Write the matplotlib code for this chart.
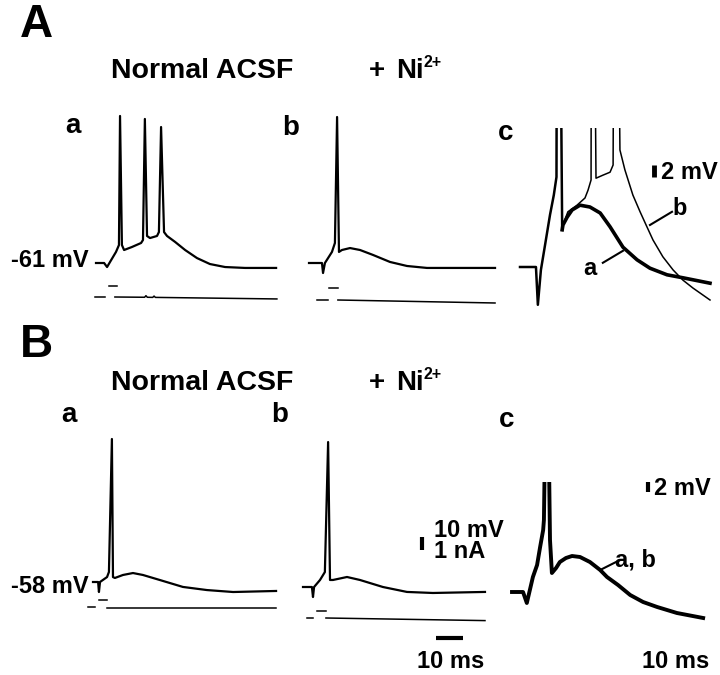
import matplotlib
matplotlib.use("Agg")
import matplotlib.pyplot as plt

plt.rcParams['font.family'] = ['Liberation Sans', 'DejaVu Sans']
plt.rcParams['font.weight'] = 'bold'

W, H = 720, 675

# ---------------- data (time in ms, membrane potential in mV, current in nA) ----------------
# A a : normal ACSF, three spikes
aa_t = [0, 3.0, 4.1, 5.2, 7.4, 8.5, 8.9, 9.6, 10.4, 13.3, 16.7, 17.4, 18.1, 18.9, 20.0,
        22.6, 23.3, 24.1, 25.2, 26.3, 29.3, 33.0, 37.4, 42.2, 47.8, 55.2, 66.7]
aa_v = [-61, -61, -64.1, -60.2, -52.5, -47.2, 52.1, -47.2, -51, -48.7, -45.6, -43.3, 49.8,
        -40.2, -41.8, -40.2, -37.2, 43.6, -37.2, -40.2, -44.8, -51, -57.2, -61.8, -64.1,
        -64.8, -64.8]
aa_cur = [([-0.4, 3.3], [0, 0]),
          ([4.8, 7.8], [0.85, 0.85]),
          ([7.0, 18.0, 18.5, 19.0, 21.0, 21.5, 22.0, 67.0], [0, -0.02, 0.1, -0.02, -0.03, 0.07, -0.03, -0.15])]

# A b : + Ni2+, single spike
ab_t = [0, 4.8, 5.2, 5.9, 8.5, 9.6, 10.4, 11.1, 12.2, 15.2, 18.9, 23.7, 30.0, 36.3, 43.7, 68.9]
ab_v = [-61, -61, -68.7, -61, -52.5, -45.6, 51.3, -52.5, -51, -49.5, -51, -54.8, -60.2,
        -63.3, -64.8, -64.8]
ab_cur = [([3.0, 7.0], [0, 0]),
          ([7.4, 10.7], [0.9, 0.9]),
          ([10.7, 68.9], [0, -0.23])]

# A c : superimposed, expanded
ac_t_pre = [0, 4.2, 4.7, 5.5, 6.6, 7.9, 8.9, 9.6, 9.9, 11.1]
ac_v_pre = [-61, -61, -67.3, -61.5, -57.3, -52.3, -49, -46, 40, -54.8]
ac_a_t = [11.1, 11.3, 12.4, 13.7, 15.8, 18.4, 21.1, 23.7, 27.1, 30.8, 34.2, 38.7, 42.9, 50]
ac_a_v = [-54.8, -54, -52.7, -51.5, -50.7, -51, -52, -54.3, -57.7, -59.8, -61.2, -62.3,
          -62.8, -63.7]
ac_b_t = [11.1, 11.3, 12.6, 15.0, 17.1, 17.9, 18.7, 18.9, 20.0, 21.8, 23.7, 24.5, 25.0, 26.3,
          27.6, 29.7, 31.6, 33.4, 35.0, 37.6, 40.3, 42.9, 45.5, 50]
ac_b_v = [-54.8, -54, -51.8, -50.7, -49.5, -48.2, -46.5, 40, -46.2, -45.7, -45.2, -44, 40,
          -41.5, -44.8, -49, -51.8, -54.3, -56.5, -59.3, -61.5, -63.2, -64.5, -66.5]

# B a : normal ACSF
ba_t = [0, 1.9, 2.2, 2.6, 5.2, 5.9, 7.0, 7.4, 8.1, 11.1, 14.8, 18.5, 24.8, 33.3, 42.2, 51.9, 67.8]
ba_v = [-58, -58, -65.7, -58, -54.2, -50.3, 52, -54.2, -54.9, -52.6, -51.1, -52.6, -56.5,
        -61.8, -64.2, -65.7, -64.9]
ba_cur = [([-1.9, 0.7], [0, 0]),
          ([2.2, 5.2], [0.55, 0.55]),
          ([5.2, 67.8], [-0.05, -0.05])]

# B b : + Ni2+
bb_t = [0, 3.3, 3.7, 4.1, 6.3, 8.1, 9.3, 10.0, 11.1, 16.3, 21.1, 29.6, 38.5, 48.1, 67.4]
bb_v = [-58, -58, -65.7, -58, -52.6, -46.5, 53.5, -52.6, -52.6, -50.3, -52.6, -58, -61.8,
        -62.6, -61.8]
bb_cur = [([1.5, 3.7], [0, 0]),
          ([5.2, 8.5], [0.55, 0.55]),
          ([8.5, 67.4], [0, -0.2])]

# B c : superimposed a, b
bc_t = [0, 2.9, 3.9, 4.7, 5.5, 6.6, 7.4, 8.2, 8.4, 9.2, 10.0, 10.5, 11.6, 12.6, 14.2, 15.8,
        17.9, 20.5, 23.2, 25.0, 27.9, 31.1, 34.5, 38.2, 43.4, 50.3]
bc_v = [-58, -58, -60.2, -57.6, -55, -52.6, -49, -45.6, -43.6, 0, -47.6, -54.2, -53.2, -52,
        -51.2, -50.8, -51, -52, -53.6, -55, -56.6, -58.6, -60, -61, -62.2, -63.2]

# ---------------- figure ----------------
fig = plt.figure(figsize=(W / 100, H / 100), dpi=100)


def panel(x0, x1, ytop, ybot, xorig, ybase, vbase, pxms, pxunit):
    # axes placed in pixel box, limits chosen so that pxms px = 1 ms and pxunit px = 1 unit
    ax = fig.add_axes([x0 / W, 1 - ybot / H, (x1 - x0) / W, (ybot - ytop) / H])
    ax.set_xlim((x0 - xorig) / pxms, (x1 - xorig) / pxms)
    ax.set_ylim(vbase + (ybase - ybot) / pxunit, vbase + (ybase - ytop) / pxunit)
    ax.axis('off')
    ax.patch.set_alpha(0)
    return ax


def ftxt(x, y, s, size, **kw):
    fig.text(x / W, 1 - y / H, s, fontsize=size, fontweight='bold', **kw)


# A a
ax = panel(80, 292, 100, 282, 96, 263, -61, 2.7, 1.3)
ax.plot(aa_t, aa_v, color='black', lw=1.6)
ax = panel(80, 292, 280, 312, 96, 297, 0, 2.7, 13)
for t, i in aa_cur:
    ax.plot(t, i, color='black', lw=1.1)

# A b
ax = panel(300, 500, 100, 285, 309, 263, -61, 2.7, 1.3)
ax.plot(ab_t, ab_v, color='black', lw=1.6)
ax = panel(300, 500, 282, 316, 309, 300, 0, 2.7, 13)
for t, i in ab_cur:
    ax.plot(t, i, color='black', lw=1.1)

# A c
ax = panel(510, 720, 128, 320, 520, 267, -61, 3.8, 6)
ax.plot(ac_t_pre, ac_v_pre, color='black', lw=1.8)
ax.plot(ac_a_t, ac_a_v, color='black', lw=2.6)
ax.plot(ac_b_t, ac_b_v, color='black', lw=1.1)
ax.plot([21.8, 27.1], [-60.3, -58.3], color='black', lw=1.5)
ax.plot([34.2, 40.0], [-54.0, -51.8], color='black', lw=1.5)
ax.text(18.4, -61.2, 'a', fontsize=17, fontweight='bold', ha='center', va='center')
ax.text(42.0, -51.2, 'b', fontsize=17, fontweight='bold', ha='center', va='center')
ax.plot([35.3, 35.3], [-46, -44], color='black', lw=3.5, solid_capstyle='butt')
ftxt(661, 179, '2 mV', 17)

# B a
ax = panel(80, 292, 430, 600, 93, 582, -58, 2.7, 1.3)
ax.plot(ba_t, ba_v, color='black', lw=1.6)
ax = panel(80, 292, 598, 622, 93, 607, 0, 2.7, 13)
for t, i in ba_cur:
    ax.plot(t, i, color='black', lw=1.1)

# B b with scale bars
ax = panel(295, 500, 430, 605, 303, 587, -58, 2.7, 1.3)
ax.plot(bb_t, bb_v, color='black', lw=1.6)
ax.plot([44.1, 44.1], [-29.5, -19.5], color='black', lw=3, solid_capstyle='butt')
ax.plot([49.3, 59.3], [-97.2, -97.2], color='black', lw=3, solid_capstyle='butt', clip_on=False)
ax = panel(295, 500, 605, 632, 303, 618, 0, 2.7, 13)
for t, i in bb_cur:
    ax.plot(t, i, color='black', lw=1.1)
ftxt(434, 537, '10 mV', 17)
ftxt(434, 558, '1 nA', 17)
ftxt(451, 668, '10 ms', 17, ha='center')

# B c
ax = panel(505, 715, 482, 640, 512, 592, -58, 3.8, 5)
ax.plot(bc_t, bc_v, color='black', lw=2.8)
ax.plot([23.2, 27.9], [-53.6, -51.8], color='black', lw=1.5)
ax.text(32.6, -51.6, 'a, b', fontsize=17, fontweight='bold', ha='center', va='center')
ax.plot([35.9, 35.9], [-38, -36], color='black', lw=3, solid_capstyle='butt', clip_on=False)
ax.plot([38.2, 48.2], [-68.2, -68.2], color='black', lw=3, solid_capstyle='butt')
ftxt(654, 495, '2 mV', 17)
ftxt(676, 668, '10 ms', 17, ha='center')

# titles and labels
for yb, letter, y_lab, mv, y_mv in [(37, 'A', 78, '-61 mV', 267), (357, 'B', 390, '-58 mV', 593)]:
    ftxt(20, yb, letter, 33)
    ftxt(202, y_lab, 'Normal ACSF', 20.5, ha='center')
    ftxt(369, y_lab, '+', 20)
    ftxt(396, y_lab, 'Ni', 20)
    ftxt(423, y_lab - 11, '2+', 11.5)
    ftxt(89, y_mv, mv, 17, ha='right')

for x, y, s in [(73, 133, 'a'), (291, 135, 'b'), (506, 140, 'c'),
                (69, 422, 'a'), (280, 422, 'b'), (507, 427, 'c')]:
    ftxt(x, y, s, 20, ha='center')

fig.savefig('out.png', dpi=100)
